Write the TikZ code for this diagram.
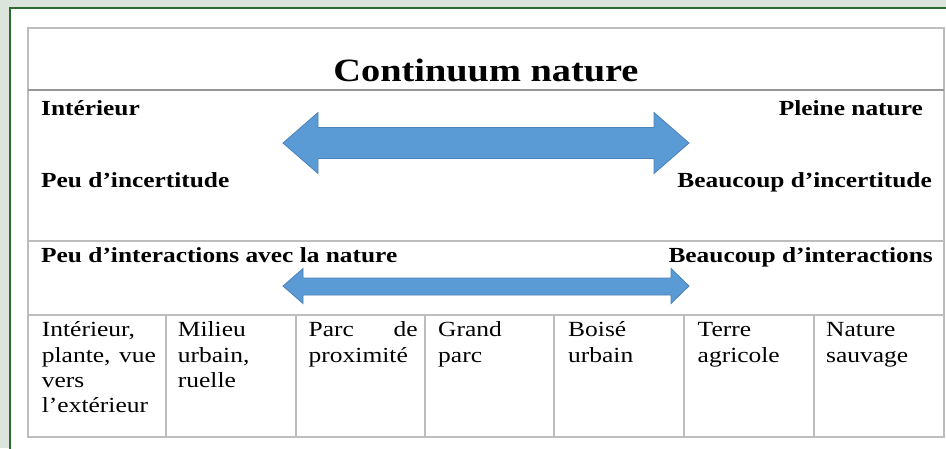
\documentclass[tikz,border=0pt]{standalone}
\usepackage{fontspec}
\setmainfont[FakeStretch=1.18]{Liberation Serif}
\definecolor{bgcol}{HTML}{DCE5DC}
\definecolor{framegreen}{HTML}{2E6B2E}
\definecolor{gridgrey}{HTML}{BDBDBD}
\definecolor{arrowfill}{HTML}{5B9BD5}
\definecolor{arrowline}{HTML}{4A83BA}
\begin{document}
\begin{tikzpicture}[x=1pt,y=-1pt,
  tline/.style={draw=gridgrey, line width=1.6pt},
  tlinedark/.style={draw=gridgrey!80!black, line width=2pt},
  boldlabel/.style={inner sep=0pt, font=\fontsize{21.5}{25}\selectfont\bfseries},
  celltext/.style={inner sep=0pt, anchor=north west, align=left,
    font=\fontsize{21.6}{25.3}\selectfont},
  bigarrow/.style={fill=arrowfill, draw=arrowline, line width=0.8pt, line join=miter}]
\useasboundingbox (0,0) rectangle (946,448);
\fill[bgcol] (0,0) rectangle (946,448);
\draw[framegreen, line width=2.2pt, fill=white] (10,8) rectangle (970,470);
% table
\draw[tline] (28,28) rectangle (944,437);
\draw[tlinedark] (28,90) -- (944,90);
\draw[tline] (28,241) -- (944,241);
\draw[tline] (28,315) -- (944,315);
\foreach \cx in {166,296,425,554,684,814} \draw[tline] (\cx,315) -- (\cx,437);
% title
\node[inner sep=0pt, anchor=base, font=\fontsize{32.5}{36}\selectfont\bfseries] (title) at (486,81) {Continuum nature};
% row 2
\node[boldlabel, anchor=base west] (interieur) at (41,115) {Intérieur};
\node[boldlabel, anchor=base east] (pleine) at (923,115) {Pleine nature};
\node[boldlabel, anchor=base west] (peuinc) at (41,187) {Peu d’incertitude};
\node[boldlabel, anchor=base east] (bcpinc) at (932,187) {Beaucoup d’incertitude};
% row 3
\node[boldlabel, anchor=base west] (peuint) at (41,262) {Peu d’interactions avec la nature};
\node[boldlabel, anchor=base east] (bcpint) at (933,262) {Beaucoup d’interactions};
% arrows
\path[bigarrow] (283,143) -- (318,112.5) -- (318,127.5) -- (654,127.5) -- (654,112.5)
  -- (689,143) -- (654,173.5) -- (654,158.5) -- (318,158.5) -- (318,173.5) -- cycle;
\path[bigarrow] (283,286) -- (303,268.5) -- (303,278) -- (671,278) -- (671,268.5)
  -- (689,286) -- (671,303.5) -- (671,295) -- (303,295) -- (303,303.5) -- cycle;
% row 4 cells
\node[celltext, text width=114pt] (c1) at (41.7,316.7) {\rule{0pt}{20pt}Intérieur,\\ plante,\hfill vue\\ vers\\ l’extérieur};
\node[celltext, text width=110pt] (c2) at (177.7,316.7) {\rule{0pt}{20pt}Milieu\\ urbain,\\ ruelle};
\node[celltext, text width=109pt] (c3) at (308.5,316.7) {\rule{0pt}{20pt}Parc\hfill de\\ proximité};
\node[celltext, text width=110pt] (c4) at (438,316.7) {\rule{0pt}{20pt}Grand\\ parc};
\node[celltext, text width=110pt] (c5) at (568,316.7) {\rule{0pt}{20pt}Boisé\\ urbain};
\node[celltext, text width=110pt] (c6) at (697.5,316.7) {\rule{0pt}{20pt}Terre\\ agricole};
\node[celltext, text width=110pt] (c7) at (826,316.7) {\rule{0pt}{20pt}Nature\\ sauvage};
\end{tikzpicture}
\end{document}
